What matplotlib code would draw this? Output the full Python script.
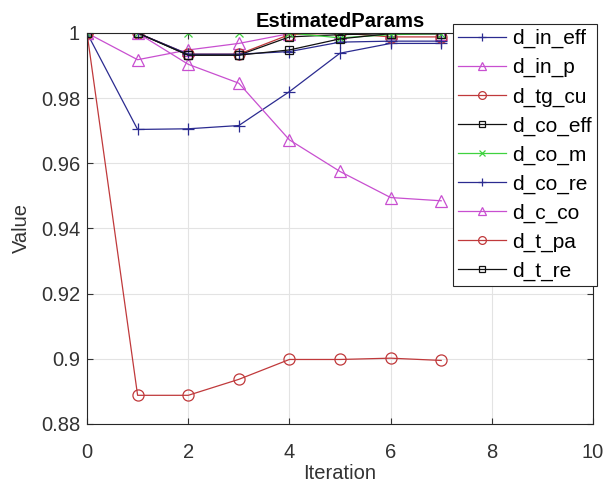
import numpy as np
import matplotlib.pyplot as plt

plt.rcParams['font.family'] = ['Liberation Sans', 'DejaVu Sans']

iteration = [0, 1, 2, 3, 4, 5, 6, 7]

d_in_eff = [1.0, 0.9704, 0.9706, 0.9716, 0.9820, 0.9938, 0.9968, 0.9968]
d_in_p = [1.0, 0.9918, 0.9948, 0.9968, 0.9998, 1.0, 1.0, 0.9998]
d_tg_cu = [1.0, 1.0, 0.9935, 0.9935, 0.9995, 1.0, 0.9988, 0.9988]
d_co_eff = [1.0, 1.0, 0.9932, 0.9932, 0.9988, 0.9995, 0.9998, 0.9998]
d_co_m = [1.0, 1.0, 1.0, 1.0, 1.0, 0.9985, 0.9995, 0.9998]
d_co_re = [1.0, 1.0, 0.9935, 0.9935, 0.9943, 0.9972, 0.9975, 0.9975]
d_c_co = [1.0, 1.0, 0.9904, 0.9846, 0.9672, 0.9575, 0.9495, 0.9485]
d_t_pa = [1.0, 0.8888, 0.8888, 0.8937, 0.8998, 0.8998, 0.9002, 0.8995]
d_t_re = [1.0, 1.0, 0.9932, 0.9932, 0.9948, 0.9982, 0.9998, 0.9998]

names = ['d_in_eff', 'd_in_p', 'd_tg_cu', 'd_co_eff', 'd_co_m',
         'd_co_re', 'd_c_co', 'd_t_pa', 'd_t_re']
series = [d_in_eff, d_in_p, d_tg_cu, d_co_eff, d_co_m,
          d_co_re, d_c_co, d_t_pa, d_t_re]

blue = '#2b2b90'
mag = '#c84fd0'
red = '#c0393b'
blk = '#111111'
grn = '#3fd23f'
styles = [(blue, '+', 9), (mag, '^', 8), (red, 'o', 8), (blk, 's', 6),
          (grn, 'x', 6), (blue, '+', 9), (mag, '^', 8), (red, 'o', 8),
          (blk, 's', 6)]

fig = plt.figure(figsize=(6.08, 4.86), dpi=100)
ax = fig.add_axes([0.1431, 0.1276, 0.8322, 0.8045])

for name, vals, (col, mk, ms) in zip(names, series, styles):
    ax.plot(iteration, vals, color=col, marker=mk, markersize=ms,
            markerfacecolor='none', markeredgecolor=col, linewidth=0.9,
            markeredgewidth=0.9, label=name)

ax.set_xlim(0, 10)
ax.set_ylim(0.88, 1.0)
ax.set_xticks([0, 2, 4, 6, 8, 10])
ax.set_yticks([0.88, 0.9, 0.92, 0.94, 0.96, 0.98, 1.0])
ax.set_yticklabels(['0.88', '0.9', '0.92', '0.94', '0.96', '0.98', '1'])
ax.grid(True, color='#e3e3e3', linewidth=0.8)
ax.set_axisbelow(True)
ax.tick_params(direction='in', labelsize=14.5, colors='#333333',
               length=4, top=True, right=True)
ax.tick_params(axis='x', pad=14)
ax.tick_params(axis='y', pad=5)
for sp in ax.spines.values():
    sp.set_color('#262626')
    sp.set_linewidth(0.8)

ax.set_xlabel('Iteration', fontsize=14.5, color='#333333', labelpad=1)
ax.set_ylabel('Value', fontsize=14.5, color='#333333', labelpad=7)
ax.set_title('EstimatedParams', fontsize=14.5, fontweight='bold', pad=4)

leg = fig.legend(loc='upper right', bbox_to_anchor=(597 / 608, 1 - 24 / 486),
                 fontsize=15, frameon=True, fancybox=False, markerscale=0.7,
                 handlelength=2.3, handletextpad=0.3, labelspacing=0.47,
                 borderpad=0.25, borderaxespad=0)
leg.get_frame().set_edgecolor('#262626')
leg.get_frame().set_linewidth(0.8)
leg.get_frame().set_alpha(1)

fig.savefig('out.png', dpi=100)
